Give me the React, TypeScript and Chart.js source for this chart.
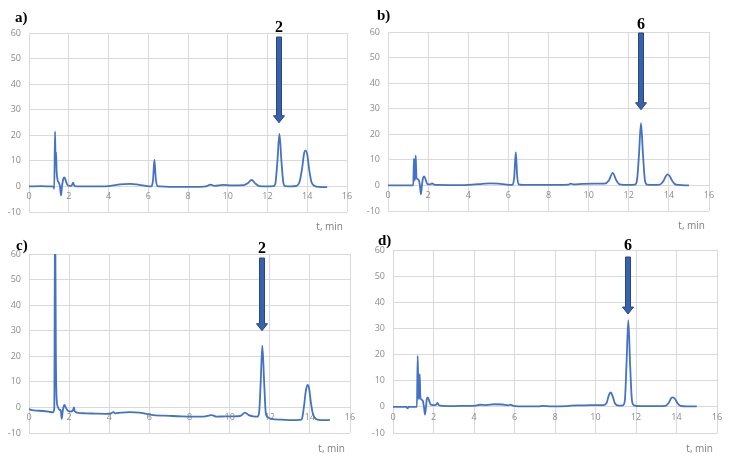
import { useEffect, useRef } from "react";
import { Chart, registerables } from "chart.js";

Chart.register(...registerables);

// ---------- data ----------
const xTicksMin = 0;
const xTicksMax = 16;
const yTicksMin = -10;
const yTicksMax = 60;

const aTime = [0, 0.6, 1.1, 1.24, 1.27, 1.31, 1.34, 1.36, 1.39, 1.44, 1.5, 1.56, 1.61, 1.66, 1.72, 1.78, 1.84, 1.92, 2.02, 2.15, 2.22, 2.28, 2.4, 3, 3.6, 4.1, 4.4, 4.8, 5.1, 5.4, 5.8, 6.15, 6.24, 6.31, 6.38, 6.46, 6.6, 7.2, 8.2, 8.9, 9.13, 9.35, 9.75, 10.2, 10.8, 11.0, 11.2, 11.38, 11.6, 12.0, 12.3, 12.4, 12.5, 12.6, 12.7, 12.8, 12.9, 13.2, 13.45, 13.6, 13.74, 13.85, 13.92, 14.0, 14.1, 14.22, 14.38, 14.6, 15.0];
const aSignal = [0, 0.1, 0, -0.1, -0.9, 21.5, 9, 13.5, 6, 2.5, 1.5, 0, -3.5, 0, 2.8, 3.5, 2.5, 0.8, 0.2, 0.4, 1.5, 0.3, 0, 0, 0, 0.2, 0.6, 0.9, 1.0, 0.8, 0.3, 0, 2.5, 10.5, 3, 0.2, 0, -0.2, -0.2, 0, 0.7, 0.2, 0.6, 0.4, 0.5, 1.2, 2.6, 1.2, 0.1, 0, 0.1, 1.3, 10, 20.5, 10, 1.3, 0.1, 0, 0.2, 1.5, 7, 13.3, 14, 12.5, 6.5, 1.5, 0.2, -0.2, -0.3];

const bTime = [0, 0.6, 1.1, 1.26, 1.29, 1.32, 1.35, 1.38, 1.42, 1.47, 1.53, 1.59, 1.64, 1.69, 1.75, 1.81, 1.88, 1.96, 2.08, 2.2, 2.3, 2.5, 3.5, 4.2, 4.7, 5.1, 5.5, 5.9, 6.2, 6.29, 6.37, 6.44, 6.52, 6.7, 7.5, 8.5, 9.0, 9.1, 9.25, 9.7, 10.3, 10.8, 11.0, 11.2, 11.38, 11.55, 12.0, 12.3, 12.41, 12.51, 12.61, 12.71, 12.81, 12.92, 13.3, 13.55, 13.72, 13.84, 13.93, 14.03, 14.15, 14.3, 14.5, 15.0];
const bSignal = [0, 0, 0, 0, 10.5, 2, 3, 11.7, 3, 2.5, 2.2, 0, -3.5, 0, 3, 3.5, 2.2, 0.6, 0.4, 0.8, 0.3, 0.2, 0.1, 0.3, 0.6, 0.8, 0.7, 0.3, 0.2, 3, 13, 3.5, 0.4, 0.2, 0.2, 0.2, 0.3, 0.7, 0.4, 0.6, 0.7, 0.7, 1.8, 4.9, 2, 0.4, 0.2, 0.3, 2, 12, 24.4, 12, 1.8, 0.3, 0.2, 0.3, 1.6, 3.5, 4.3, 3.8, 2, 0.5, 0.2, 0];

const cTime = [0, 0.1, 0.5, 1.0, 1.2, 1.26, 1.3, 1.34, 1.38, 1.45, 1.52, 1.58, 1.63, 1.68, 1.73, 1.77, 1.83, 1.95, 2.1, 2.2, 2.24, 2.28, 2.4, 2.8, 3.3, 3.8, 4.1, 4.2, 4.3, 4.6, 5.0, 5.5, 5.85, 6.2, 7.0, 7.6, 8.2, 8.7, 9.1, 9.35, 9.8, 10.2, 10.55, 10.77, 10.95, 11.2, 11.38, 11.47, 11.55, 11.63, 11.72, 11.8, 11.9, 12.1, 12.6, 13.2, 13.5, 13.6, 13.7, 13.8, 13.88, 13.96, 14.05, 14.15, 14.3, 14.6, 15.0];
const cSignal = [-0.5, -1, -1.3, -1.7, -1.9, -0.5, 80, 20, 3, 0, -1, -1, -4.5, -1.5, 0.5, 1, 0, -1.4, -1.6, -1, 0, -1.5, -2, -2.3, -2.4, -2.5, -2.3, -1.8, -2.3, -2, -1.8, -2, -2.5, -3, -3.3, -3.5, -3.6, -3.6, -3.0, -3.6, -3.5, -3.5, -3.3, -2, -3, -3.5, -3.6, -2, 10, 24.2, 10, -2, -3.8, -4.5, -4.8, -5, -4.9, -4.5, 0, 6.5, 8.8, 7.5, 2, -2.5, -4.5, -5, -4.9];

const dTime = [0, 0.5, 0.66, 0.72, 0.78, 1.1, 1.18, 1.22, 1.26, 1.29, 1.32, 1.35, 1.4, 1.47, 1.53, 1.58, 1.63, 1.67, 1.72, 1.78, 1.86, 1.98, 2.12, 2.2, 2.27, 2.45, 3.0, 3.6, 4.1, 4.3, 4.6, 5.0, 5.4, 5.7, 5.8, 5.95, 6.5, 7.2, 7.4, 7.8, 8.6, 9.1, 9.5, 10.0, 10.4, 10.55, 10.66, 10.75, 10.85, 10.97, 11.15, 11.35, 11.45, 11.53, 11.62, 11.71, 11.8, 11.9, 12.2, 13.0, 13.45, 13.62, 13.75, 13.83, 13.92, 14.05, 14.2, 14.5, 15.0];
const dSignal = [0, 0, 0, -0.6, 0, 0, 0, 19.5, 4, 3, 12.5, 4, 2.8, 2.3, 0, -3, 0, 3, 3.5, 2.5, 0.9, 0.7, 0.8, 1.5, 0.6, 0.4, 0.3, 0.4, 0.5, 0.8, 0.7, 1.0, 0.9, 0.6, 0.8, 0.4, 0.2, 0.2, 0.4, 0.2, 0.3, 0.6, 0.6, 0.7, 0.7, 1.5, 4.5, 5.5, 4, 1.2, 0.5, 0.6, 2.5, 16, 33.2, 16, 2.5, 0.6, 0.3, 0.3, 0.4, 1.6, 3.4, 3.6, 3.1, 1.4, 0.4, 0.2, 0.2];

const panelLetters = ["a)", "b)", "c)", "d)"];
const arrowTimes = [12.6, 12.61, 11.63, 11.62];
const arrowTipValues = [24.9, 29.6, 30, 35.5];
const arrowLabels = ["2", "6", "2", "6"];
const axisUnit = "t, min";

// ---------- layout (pixels) ----------
type Layout = {
  left: number; top: number;
  area: { left: number; right: number; top: number; bottom: number };
  letter: [number, number];
  unit: [number, number];
  shaftTopOffset: number;
  labelOffset: number;
};

const layouts: Layout[] = [
  { left: 0, top: 0, area: { left: 29, right: 18, top: 33, bottom: 19 }, letter: [15, 18], unit: [343, 227], shaftTopOffset: 4, labelOffset: -5 },
  { left: 365, top: 0, area: { left: 23, right: 21, top: 32, bottom: 20 }, letter: [12, 16], unit: [340, 226], shaftTopOffset: 1, labelOffset: -7 },
  { left: 0, top: 231, area: { left: 29, right: 15, top: 23, bottom: 29 }, letter: [16, 15], unit: [345, 218], shaftTopOffset: 4, labelOffset: -5 },
  { left: 365, top: 231, area: { left: 28, right: 13, top: 19, bottom: 29 }, letter: [13, 10], unit: [348, 218], shaftTopOffset: 7, labelOffset: -4 },
];

const series = [
  [aTime, aSignal],
  [bTime, bSignal],
  [cTime, cSignal],
  [dTime, dSignal],
];

const W = 365;
const H = 231;

function Panel({ index }: { index: number }) {
  const ref = useRef<HTMLCanvasElement | null>(null);
  useEffect(() => {
    const canvas = ref.current;
    if (!canvas) return;
    const L = layouts[index];
    const [times, values] = series[index];
    const points = times.map((t, i) => ({ x: t, y: values[i] }));

    const annot = {
      id: "annot" + index,
      afterDraw(chart: any) {
        const ctx = chart.ctx;
        const xs = chart.scales.x;
        const ys = chart.scales.y;
        const area = chart.chartArea;
        ctx.save();
        // panel letter
        ctx.fillStyle = "#000";
        ctx.font = "bold 15px 'Liberation Serif', 'DejaVu Serif', serif";
        ctx.textAlign = "left";
        ctx.textBaseline = "middle";
        ctx.fillText(panelLetters[index], L.letter[0], L.letter[1]);
        // unit label
        ctx.fillStyle = "#808080";
        ctx.font = "10px 'Open Sans', 'Liberation Sans', sans-serif";
        ctx.textAlign = "right";
        ctx.fillText(axisUnit, L.unit[0], L.unit[1]);
        // arrow
        const ax = Math.round(xs.getPixelForValue(arrowTimes[index]));
        const tip = ys.getPixelForValue(arrowTipValues[index]);
        const top = area.top + L.shaftTopOffset;
        const headH = 7;
        ctx.fillStyle = "#3862ab";
        ctx.strokeStyle = "#26477f";
        ctx.lineWidth = 1;
        ctx.beginPath();
        ctx.moveTo(ax - 2.5, top);
        ctx.lineTo(ax + 2.5, top);
        ctx.lineTo(ax + 2.5, tip - headH);
        ctx.lineTo(ax + 5.5, tip - headH);
        ctx.lineTo(ax, tip);
        ctx.lineTo(ax - 5.5, tip - headH);
        ctx.lineTo(ax - 2.5, tip - headH);
        ctx.closePath();
        ctx.fill();
        ctx.stroke();
        // arrow label
        ctx.fillStyle = "#000";
        ctx.font = "bold 16px 'Liberation Serif', 'DejaVu Serif', serif";
        ctx.textAlign = "center";
        ctx.textBaseline = "middle";
        ctx.fillText(arrowLabels[index], ax, area.top + L.labelOffset);
        ctx.restore();
      },
    };

    const tickFont = { family: "'Open Sans', 'Liberation Sans', sans-serif", size: 9 };
    const chart = new Chart(canvas, {
      type: "line",
      data: {
        datasets: [
          {
            data: points,
            borderColor: "#4472c4",
            borderWidth: 1.8,
            pointRadius: 0,
            fill: false,
            cubicInterpolationMode: "monotone",
          },
        ],
      },
      options: {
        responsive: false,
        animation: false,
        devicePixelRatio: 1,
        layout: { padding: { left: 0, right: L.area.right, top: L.area.top, bottom: L.area.bottom } },
        plugins: { legend: { display: false }, tooltip: { enabled: false }, title: { display: false } },
        scales: {
          x: {
            type: "linear",
            min: xTicksMin,
            max: xTicksMax,
            position: { y: 0 } as any,
            grid: { color: "#d9d9d9", lineWidth: 1, drawTicks: false },
            border: { display: false },
            ticks: { stepSize: 2, color: "#8c8c8c", font: tickFont, padding: 5, maxRotation: 0 },
            afterFit(scale: any) { scale.height = 0; },
          },
          y: {
            type: "linear",
            min: yTicksMin,
            max: yTicksMax,
            grid: { color: "#d9d9d9", lineWidth: 1, drawTicks: false },
            border: { display: false },
            ticks: { stepSize: 10, color: "#8c8c8c", font: tickFont, padding: 8 },
            afterFit(scale: any) { scale.width = L.area.left; },
          },
        },
      },
      plugins: [annot],
    } as any);
    return () => chart.destroy();
  }, [index]);

  const L = layouts[index];
  return (
    <canvas
      ref={ref}
      width={W}
      height={H}
      style={{ position: "absolute", left: L.left, top: L.top, width: W, height: H }}
    />
  );
}

export default function App() {
  return (
    <div style={{ position: "absolute", left: 0, top: 0, width: 730, height: 462, background: "#fff", overflow: "hidden" }}>
      {[0, 1, 2, 3].map((i) => (
        <Panel key={i} index={i} />
      ))}
    </div>
  );
}
